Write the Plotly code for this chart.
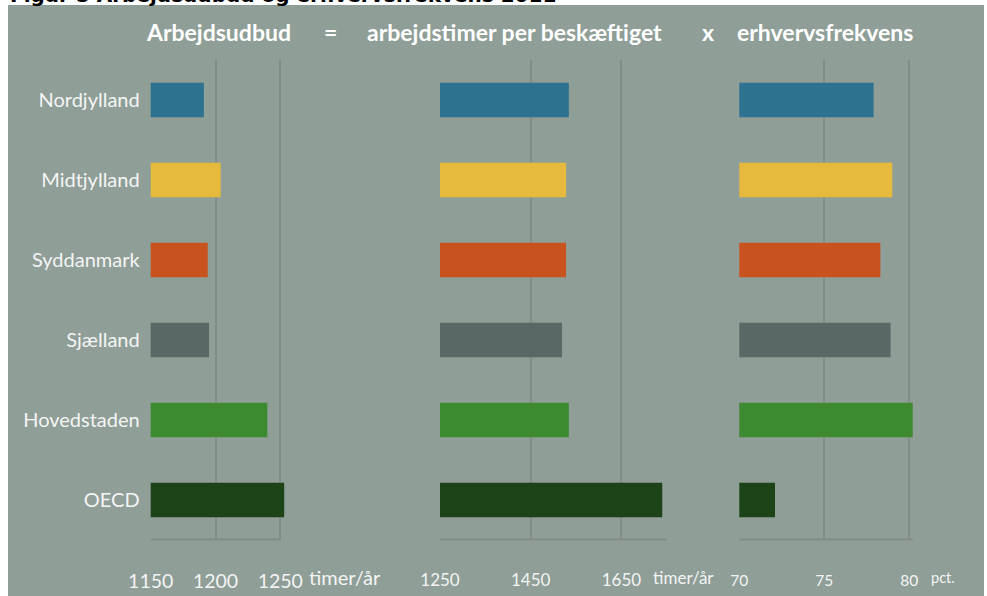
import plotly.graph_objects as go

W, H = 987, 596

regions = ["Nordjylland", "Midtjylland", "Syddanmark", "Sjælland", "Hovedstaden", "OECD"]
colors = ["#2D728F", "#E5BA3D", "#C9531F", "#5A6865", "#3D8A31", "#1D4318"]

arbejdsudbud = [1191, 1204, 1194, 1195, 1240, 1253]
timer_per_beskaeftiget = [1534, 1528, 1528, 1519, 1534, 1740]
erhvervsfrekvens = [77.9, 79.0, 78.3, 78.9, 80.2, 72.1]

ticks1 = [1150, 1200, 1250]
ticks2 = [1250, 1450, 1650]
ticks3 = [70, 75, 80]

BG = "#8F9E97"
GRID = "#838B87"
TXT = "#F4F4F4"
FONT = "Lato, Carlito, sans-serif"


def px(x):
    return x / W


def py(y):
    return 1 - y / H


fig = go.Figure()
fig.add_trace(go.Bar(y=regions, x=arbejdsudbud, orientation="h", marker=dict(color=colors, line_width=0),
                     xaxis="x", yaxis="y", showlegend=False))
fig.add_trace(go.Bar(y=regions, x=timer_per_beskaeftiget, orientation="h", marker=dict(color=colors, line_width=0),
                     xaxis="x2", yaxis="y2", showlegend=False))
fig.add_trace(go.Bar(y=regions, x=erhvervsfrekvens, orientation="h", marker=dict(color=colors, line_width=0),
                     xaxis="x3", yaxis="y3", showlegend=False))

ydom = [py(540), py(60)]


def xax(dom, rng, tv, size, anchor, standoff):
    return dict(domain=dom, range=rng, tickvals=tv, ticktext=[str(t) for t in tv], anchor=anchor,
                showgrid=True, gridcolor=GRID, gridwidth=1.5, zeroline=False, showline=False,
                ticks="", ticklabelstandoff=standoff, automargin=False,
                tickfont=dict(family=FONT, size=size, color=TXT), fixedrange=True)


def yax(anchor, show):
    return dict(domain=ydom, anchor=anchor, autorange="reversed", categoryorder="array",
                categoryarray=regions, showgrid=False, zeroline=False, showline=False,
                showticklabels=show, ticks="", ticklabelstandoff=10, automargin=False,
                tickfont=dict(family=FONT, size=20, color=TXT), fixedrange=True)


fig.update_layout(
    width=W, height=H,
    margin=dict(l=0, r=0, t=0, b=0, autoexpand=False),
    paper_bgcolor="white", plot_bgcolor="rgba(0,0,0,0)",
    bargap=0.57,
    xaxis=xax([px(150.7), px(288.1)], [1150, 1256], ticks1, 19.5, "y", 27),
    xaxis2=xax([px(440), px(666.8)], [1250, 1750], ticks2, 17, "y2", 28),
    xaxis3=xax([px(739.3), px(916.1)], [70, 80.4], ticks3, 15.5, "y3", 29),
    yaxis=yax("x", True),
    yaxis2=yax("x2", False),
    yaxis3=yax("x3", False),
)

shapes = [
    dict(type="rect", xref="paper", yref="paper", x0=px(8), x1=px(984), y0=0, y1=py(5),
         fillcolor=BG, line_width=0, layer="below"),
    dict(type="line", xref="x", yref="paper", x0=1150, x1=1250, y0=py(539.5), y1=py(539.5),
         line=dict(color=GRID, width=2), layer="below"),
    dict(type="line", xref="x2", yref="paper", x0=1250, x1=1750, y0=py(539.5), y1=py(539.5),
         line=dict(color=GRID, width=2), layer="below"),
    dict(type="line", xref="x3", yref="paper", x0=70, x1=80.2, y0=py(539.5), y1=py(539.5),
         line=dict(color=GRID, width=2), layer="below"),
]
fig.update_layout(shapes=shapes)

ann = []
ann.append(dict(text="<b>Figur 5 Arbejdsudbud og erhvervsfrekvens 2011</b>", x=px(8), y=py(9),
                xref="paper", yref="paper", xanchor="left", yanchor="bottom", showarrow=False,
                font=dict(family="DejaVu Sans", size=20, color="black")))
hdr_font = dict(family=FONT, size=23, color="white")
for t, xc in [("Arbejdsudbud", 218), ("=", 330), ("arbejdstimer per beskæftiget", 514),
              ("x", 708), ("erhvervsfrekvens", 825)]:
    ann.append(dict(text="<b>" + t + "</b>", x=px(xc), y=py(32), xref="paper", yref="paper",
                    xanchor="center", yanchor="middle", showarrow=False, font=hdr_font))
for t, xc, sz in [("timer/år", 345, 20), ("timer/år", 683, 17), ("pct.", 943, 14.5)]:
    ann.append(dict(text=t, x=px(xc), y=py(577), xref="paper", yref="paper",
                    xanchor="center", yanchor="middle", showarrow=False,
                    font=dict(family=FONT, size=sz, color=TXT)))
fig.update_layout(annotations=ann)

fig.write_html("out.html", config={"displayModeBar": False},
               post_script="document.body.style.margin='0px';")
